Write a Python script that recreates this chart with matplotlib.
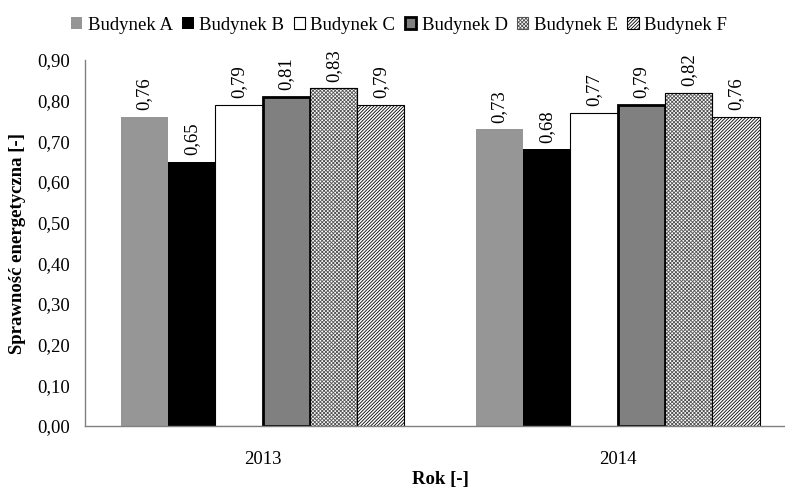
import numpy as np
import matplotlib
matplotlib.use("Agg")
import matplotlib.pyplot as plt

plt.rcParams['font.family'] = ['Liberation Serif', 'DejaVu Serif']
plt.rcParams['hatch.linewidth'] = 0.6

years = ['2013', '2014']
buildings = ['Budynek A', 'Budynek B', 'Budynek C', 'Budynek D', 'Budynek E', 'Budynek F']
eff_2013 = [0.76, 0.65, 0.79, 0.81, 0.83, 0.79]
eff_2014 = [0.73, 0.68, 0.77, 0.79, 0.82, 0.76]

# fill, edge, edge width, hatch for each building
styles = [
    dict(facecolor='#969696', edgecolor='#969696', linewidth=0, hatch=None),
    dict(facecolor='black', edgecolor='black', linewidth=0, hatch=None),
    dict(facecolor='white', edgecolor='black', linewidth=0.8, hatch=None),
    dict(facecolor='#808080', edgecolor='black', linewidth=2.0, hatch=None),
    dict(facecolor='white', edgecolor='#555555', linewidth=0.8, hatch='xxxxxxxxx'),
    dict(facecolor='white', edgecolor='black', linewidth=0.8, hatch='//////////'),
]

values = np.array([eff_2013, eff_2014])
x = np.arange(len(years))
n = len(buildings)
width = 0.8 / n

fig = plt.figure(figsize=(7.85, 4.87), dpi=100)
ax = fig.add_axes([85 / 785, 61 / 487, 710 / 785, 366 / 487])

for i, name in enumerate(buildings):
    pos = x - 0.4 + width * (i + 0.5)
    st = styles[i]
    bars = ax.bar(pos, values[:, i], width, label=name, **st)
    if i == 4:
        # keep the outline of the checkered bars black
        for b in bars:
            ax.bar(b.get_x() + b.get_width() / 2, b.get_height(), width,
                   facecolor='none', edgecolor='black', linewidth=0.8)
    for b, v in zip(bars, values[:, i]):
        ax.text(b.get_x() + b.get_width() / 2, v + 0.016, f"{v:.2f}".replace('.', ','),
                rotation=90, ha='center', va='bottom', fontsize=13.5)

ax.set_xlim(-0.5, 1.5)
ax.set_ylim(0, 0.9)
ax.set_yticks(np.arange(0, 0.91, 0.1))
ax.set_yticklabels([f"{t:.2f}".replace('.', ',') for t in np.arange(0, 0.91, 0.1)], fontsize=13.5)
ax.set_xticks(x)
ax.set_xticklabels(years, fontsize=13.5)
ax.tick_params(axis='y', length=0, pad=11)
ax.tick_params(axis='x', length=0, pad=18)

for s in ['top', 'right']:
    ax.spines[s].set_visible(False)
for s in ['left', 'bottom']:
    ax.spines[s].set_color('#808080')
    ax.spines[s].set_linewidth(1.0)

ax.set_ylabel('Sprawność energetyczna [-]', fontsize=13.5, fontweight='bold', labelpad=8)
ax.set_xlabel('Rok [-]', fontsize=13.5, fontweight='bold', labelpad=2)

fig.legend(loc='center', bbox_to_anchor=(399 / 785, 1 - 25 / 487), ncol=6, frameon=False,
           fontsize=13.5, handlelength=0.6, handleheight=0.6, handletextpad=0.3,
           columnspacing=0.5)

fig.savefig('out.png', dpi=100)
